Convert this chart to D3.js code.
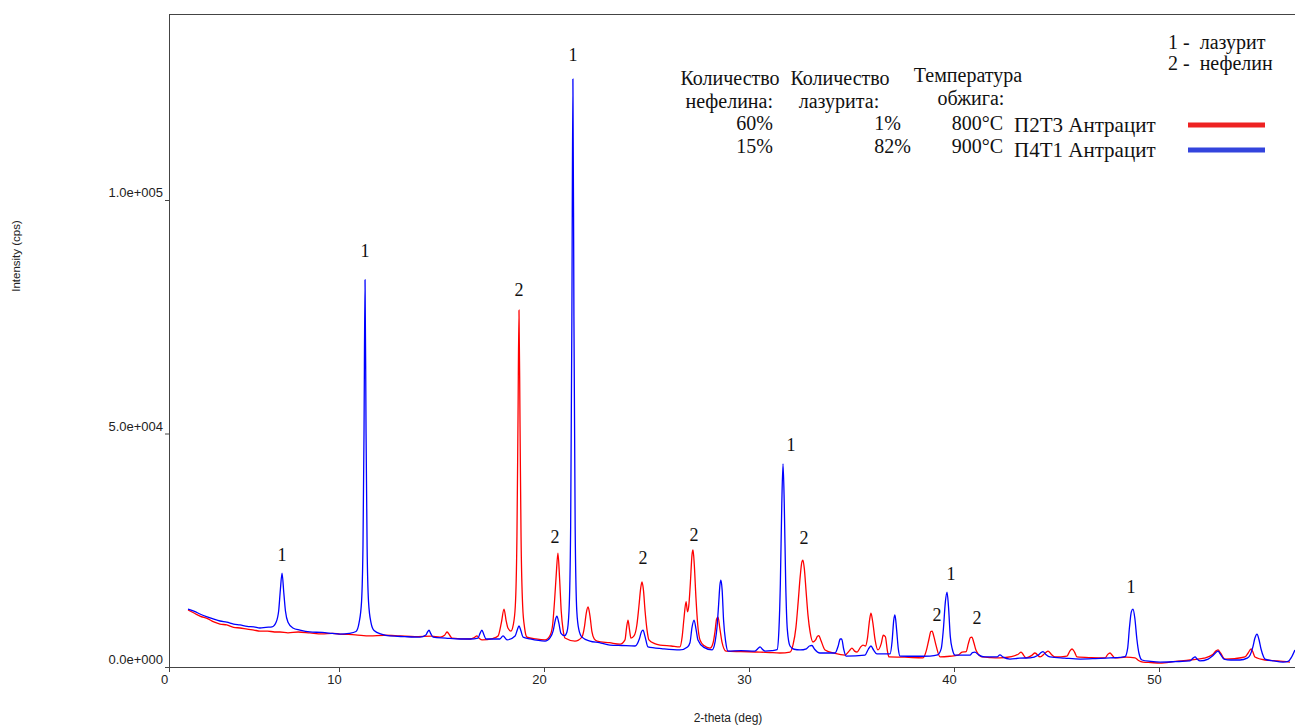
<!DOCTYPE html>
<html>
<head>
<meta charset="utf-8">
<script src="https://cdn.jsdelivr.net/npm/d3@7"></script>
<style>
  body { margin: 0; background: #fff; }
  .axis path, .axis line { stroke: #444; }
  .axis text { font-family: "Liberation Sans", Arial, sans-serif; font-size: 13px; fill: #222; }
  .serif { font-family: "Liberation Serif", "Times New Roman", serif; fill: #111; white-space: pre; }
</style>
</head>
<body>
<div class="xrd"></div>
<script>
// P2T3 Антрацит (red): [2-theta, intensity]
var redSeries = [
  [1.12,12200],[1.5,11500],[1.82,10900],[2.3,10300],[2.6,9700],[3.0,9200],[3.4,9000],[3.8,8500],
  [4.18,8350],[4.6,8100],[5.0,7900],[5.35,7700],[5.8,7700],[6.2,7500],[6.53,7500],[7.0,7300],
  [7.6,7500],[8.29,7300],[9.0,7100],[9.6,7200],[10.05,7050],[10.8,6900],[11.51,6650],[12.2,6800],
  [12.98,6650],[13.7,6500],[14.5,6600],[14.93,6400],[15.15,6800],[15.27,7500],[15.4,6800],
  [15.51,6200],[16.39,6000],[16.6,6300],[16.73,6650],[16.85,6100],[16.98,5800],[17.5,6100],
  [17.76,6650],[17.92,9500],[18.05,12400],[18.15,10000],[18.24,8350],[18.39,7700],[18.5,9000],
  [18.6,13000],[18.68,28000],[18.73,52000],[18.78,76400],[18.83,52000],[18.88,28000],[18.96,13000],
  [19.05,8500],[19.17,6400],[19.6,6000],[20.05,5800],[20.3,6800],[20.42,9000],[20.52,14500],
  [20.6,20000],[20.68,24400],[20.76,19000],[20.84,12000],[20.93,8000],[21.02,6200],[21.51,5550],
  [21.85,6400],[21.98,8800],[22.06,11500],[22.15,12850],[22.24,11000],[22.34,7500],[22.45,6000],
  [22.59,5550],[23.2,5200],[23.71,4900],[23.95,5800],[24.03,8500],[24.1,10050],[24.17,8000],
  [24.24,6200],[24.39,6650],[24.53,9000],[24.63,13000],[24.72,17000],[24.78,18200],[24.85,16500],
  [24.93,12000],[25.03,7800],[25.12,5800],[25.4,5000],[25.66,4700],[26.2,4500],[26.63,4300],
  [26.74,6500],[26.83,10500],[26.93,14000],[27.0,11800],[27.06,13000],[27.14,18000],[27.22,24000],
  [27.27,25050],[27.33,22000],[27.41,15000],[27.5,9000],[27.61,5800],[27.8,4600],[28.1,4050],
  [28.25,5200],[28.34,7500],[28.42,10300],[28.49,10700],[28.57,8500],[28.68,5400],[28.88,3400],
  [29.6,3300],[30.54,3200],[31.0,3100],[31.51,3000],[32.0,3200],[32.15,4800],[32.29,8500],
  [32.4,14000],[32.5,19500],[32.58,22500],[32.63,22900],[32.7,21000],[32.78,16500],[32.88,11000],
  [32.98,7500],[33.12,5350],[33.25,5800],[33.34,6600],[33.41,6700],[33.5,5800],[33.71,3650],
  [34.2,2900],[34.68,2550],[34.9,3500],[35.02,4050],[35.15,3400],[35.27,3200],[35.45,4300],
  [35.56,4700],[35.68,4500],[35.78,6200],[35.88,10000],[35.95,11550],[36.04,9500],[36.15,5800],
  [36.29,3650],[36.45,5000],[36.55,6800],[36.65,6500],[36.75,3500],[36.83,2150],[37.6,2100],
  [38.49,1950],[38.65,3500],[38.78,6000],[38.87,7600],[38.93,7700],[39.02,6500],[39.12,4700],
  [39.32,2150],[39.8,2300],[40.2,2550],[40.39,3200],[40.59,3300],[40.7,5000],[40.8,6300],
  [40.87,6400],[40.97,5200],[41.07,3650],[41.37,2150],[41.8,2000],[42.24,1950],[42.8,2200],
  [43.15,2800],[43.27,3200],[43.4,2500],[43.51,1950],[43.8,2500],[43.95,3000],[44.2,2150],
  [44.45,3000],[44.59,3400],[44.75,2700],[44.93,2150],[45.51,2350],[45.65,3400],[45.76,3850],
  [45.88,3200],[46.0,2150],[46.7,2000],[47.37,1950],[47.5,2700],[47.61,3000],[47.72,2500],
  [47.85,1950],[48.4,2100],[48.83,1950],[49.0,1400],[49.22,1050],[49.6,950],[50.05,850],
  [50.8,1200],[51.51,1500],[52.2,1900],[52.6,2600],[52.8,3500],[52.88,3650],[53.0,3000],
  [53.22,1700],[53.7,1800],[54.19,2150],[54.35,3000],[54.49,3850],[54.58,3200],[54.68,2150],
  [55.17,1500],[55.8,1300],[56.39,1050]
];

// P4T1 Антрацит (blue)
var blueSeries = [
  [1.12,12400],[1.5,11900],[1.82,11350],[2.2,10800],[2.6,10300],[3.0,9850],[3.4,9600],[3.8,9200],
  [4.18,9000],[4.6,8700],[5.0,8600],[5.35,8350],[5.7,8500],[6.06,8600],[6.3,9600],[6.45,12000],
  [6.55,16500],[6.65,20100],[6.75,16000],[6.85,12000],[7.0,9600],[7.29,8350],[7.7,7900],
  [8.29,7500],[9.0,7400],[9.6,7200],[10.05,7050],[10.5,7200],[10.83,7600],[10.98,9500],
  [11.1,14000],[11.17,26000],[11.22,50000],[11.27,82900],[11.32,50000],[11.37,26000],[11.44,14000],
  [11.56,9500],[11.71,7800],[12.1,7000],[12.49,6650],[13.2,6500],[13.95,6400],[14.24,6850],
  [14.32,7500],[14.39,7900],[14.47,7200],[14.59,6400],[15.2,6200],[15.9,6000],[16.4,6000],
  [16.78,6200],[16.88,7200],[16.97,7900],[17.06,7000],[17.17,6000],[17.85,6000],[18.0,6650],
  [18.2,5800],[18.59,6650],[18.7,8000],[18.78,8800],[18.87,7800],[18.98,6400],[19.32,6000],
  [20.05,5550],[20.3,6300],[20.45,7800],[20.55,10000],[20.63,10900],[20.72,9500],[20.83,7200],
  [21.0,6700],[21.12,7500],[21.22,12000],[21.3,30000],[21.36,75000],[21.41,125900],[21.46,75000],
  [21.52,30000],[21.6,12000],[21.7,8000],[21.85,6400],[22.24,5550],[22.7,5200],[23.22,4700],
  [23.8,4600],[24.44,4500],[24.65,6000],[24.75,7500],[24.83,7900],[24.93,6500],[25.07,4300],
  [25.8,3900],[26.63,3650],[27.0,4300],[27.12,5200],[27.22,8500],[27.32,10050],[27.42,8000],
  [27.51,5800],[27.8,4200],[28.2,3650],[28.35,5500],[28.44,8500],[28.52,13500],[28.58,17500],
  [28.63,18600],[28.69,16500],[28.76,10000],[28.86,5500],[28.98,3400],[29.6,3500],[30.29,3400],
  [30.45,4000],[30.54,4300],[30.65,3800],[30.78,3400],[31.1,3500],[31.37,3700],[31.46,8000],
  [31.53,18000],[31.6,35000],[31.66,43500],[31.72,35000],[31.79,18000],[31.87,8000],[32.0,4500],
  [32.2,3800],[32.49,3650],[32.8,3900],[32.95,4500],[33.07,4600],[33.2,3800],[33.46,3000],
  [34.2,3000],[34.35,4500],[34.45,6000],[34.52,6000],[34.62,3800],[34.73,2350],[35.66,2550],
  [35.82,3800],[35.95,4500],[36.08,3600],[36.24,2800],[36.88,2800],[36.98,5500],[37.06,10000],
  [37.12,11150],[37.2,8000],[37.28,4000],[37.37,2350],[38.1,2300],[38.83,2350],[39.2,2600],
  [39.38,4000],[39.48,8000],[39.58,14000],[39.66,16050],[39.73,13000],[39.82,6500],[39.92,3800],
  [40.05,2550],[40.78,2550],[40.9,3100],[41.02,3200],[41.2,2600],[41.51,2150],[42.1,2150],
  [42.24,2600],[42.4,2100],[42.73,1700],[43.2,1900],[43.71,1950],[44.1,2500],[44.25,3100],
  [44.34,3300],[44.48,2700],[44.68,2150],[45.4,1900],[46.15,1700],[46.9,1800],[47.61,1950],
  [48.1,2050],[48.34,2200],[48.47,4000],[48.56,8500],[48.65,11800],[48.73,12400],[48.82,10500],
  [48.92,6000],[49.02,3000],[49.17,1500],[49.6,1200],[50.05,1050],[50.8,1150],[51.51,1300],
  [51.66,1900],[51.76,2150],[51.86,1700],[52.0,1300],[52.4,1700],[52.59,2300],[52.75,3000],
  [52.88,3400],[53.0,2700],[53.17,1700],[53.5,1500],[53.95,1500],[54.3,1900],[54.44,2500],
  [54.58,4300],[54.68,6200],[54.78,7050],[54.87,6000],[54.98,3800],[55.1,2200],[55.17,1700],
  [55.6,1300],[56.05,1050],[56.3,1200],[56.45,2000],[56.63,3650]
];

// peak annotations: [2-theta, intensity, label]
var peakLabels = [
  [6.65,24000,"1"],[11.27,89100,"1"],[18.78,80700,"2"],[21.41,131200,"1"],[20.54,27800,"2"],
  [24.83,23500,"2"],[27.32,28300,"2"],[32.05,47500,"1"],[32.68,27600,"2"],[39.17,11100,"2"],
  [39.85,19900,"1"],[41.12,10500,"2"],[48.63,17300,"1"]
];

var xTicks = [0, 10, 20, 30, 40, 50];
var yTicks = [0, 50000, 100000];
var yTickLabels = ["0.0e+000", "5.0e+004", "1.0e+005"];

var width = 1295, height = 727;
var plotLeft = 169, plotRight = 1295, plotTop = 14, plotBottom = 667;

var svg = d3.select(".xrd").append("svg")
    .attr("width", width)
    .attr("height", height);

// the source image squeezes the 0-10 interval
var x = d3.scaleLinear().domain([0, 10, 50]).range([169, 339, 1159]);
var y = d3.scaleLinear().domain([0, 100000]).range([667, 200]);

svg.append("defs").append("clipPath").attr("id", "plot")
  .append("rect")
    .attr("x", plotLeft).attr("y", plotTop)
    .attr("width", plotRight - plotLeft).attr("height", plotBottom - plotTop);

// top border
svg.append("line")
    .attr("x1", plotLeft).attr("x2", plotRight)
    .attr("y1", plotTop + 0.5).attr("y2", plotTop + 0.5)
    .attr("stroke", "#444");

var line = d3.line()
    .curve(d3.curveMonotoneX)
    .x((d) => x(d[0]))
    .y((d) => y(d[1]));

var g = svg.append("g").attr("clip-path", "url(#plot)");

g.append("path").datum(redSeries)
    .attr("d", line)
    .attr("fill", "none")
    .attr("stroke", "#ff0000")
    .attr("stroke-width", 1.3);

g.append("path").datum(blueSeries)
    .attr("d", line)
    .attr("fill", "none")
    .attr("stroke", "#0000ff")
    .attr("stroke-width", 1.3);

// axes
var xAxis = svg.append("g")
    .attr("class", "axis")
    .attr("transform", "translate(0," + plotBottom + ")")
    .call(d3.axisBottom(x).tickValues(xTicks).tickSize(5).tickPadding(3).tickSizeOuter(0));
xAxis.select(".domain").attr("d", "M" + plotLeft + ",0.5H" + plotRight);
xAxis.selectAll(".tick text").attr("dx", -5);

var yAxis = svg.append("g")
    .attr("class", "axis")
    .attr("transform", "translate(" + plotLeft + ",0)")
    .call(d3.axisLeft(y).tickValues(yTicks).tickSize(4).tickPadding(2).tickSizeOuter(0)
      .tickFormat((d, i) => yTickLabels[i]));
yAxis.select(".domain").attr("d", "M0.5," + plotTop + "V" + plotBottom);
yAxis.selectAll(".tick text").attr("dy", "-0.25em");

svg.append("text")
    .attr("transform", "translate(20,256) rotate(-90)")
    .attr("text-anchor", "middle")
    .style("font-family", "Liberation Sans, Arial, sans-serif")
    .style("font-size", "11.5px")
    .attr("fill", "#222")
    .text("Intensity (cps)");

svg.append("text")
    .attr("x", 728).attr("y", 722)
    .attr("text-anchor", "middle")
    .style("font-family", "Liberation Sans, Arial, sans-serif")
    .style("font-size", "12px")
    .attr("fill", "#222")
    .text("2-theta (deg)");

// peak numbers
svg.selectAll("text.peak")
  .data(peakLabels)
  .enter().append("text")
    .attr("class", "peak serif")
    .attr("x", (d) => x(d[0]))
    .attr("y", (d) => y(d[1]))
    .attr("dy", "0.35em")
    .attr("text-anchor", "middle")
    .style("font-size", "18px")
    .text((d) => d[2]);

// legend / annotation block
function label(txt, px, py, anchor, size) {
  svg.append("text")
      .attr("class", "serif")
      .attr("x", px).attr("y", py)
      .attr("text-anchor", anchor || "start")
      .style("font-size", (size || 20) + "px")
      .text(txt);
}

label("1 -  лазурит", 1168, 49);
label("2 -  нефелин", 1168, 70);

label("Количество", 730, 85, "middle");
label("нефелина:", 773, 108, "end");
label("60%", 773, 130, "end");
label("15%", 773, 153, "end");

label("Количество", 840, 85, "middle");
label("лазурита:", 839, 108, "middle");
label("1%", 901, 130, "end");
label("82%", 911, 153, "end");

label("Температура", 968, 82, "middle");
label("обжига:", 971, 105, "middle");
label("800°C", 1003, 130, "end");
label("900°C", 1003, 153, "end");

label("П2Т3 Антрацит", 1014, 132, "start", 21);
label("П4Т1 Антрацит", 1014, 157, "start", 21);

var legendLines = [["#ee2222", 125], ["#3344dd", 150]];
svg.selectAll("line.key")
  .data(legendLines)
  .enter().append("line")
    .attr("class", "key")
    .attr("x1", 1188).attr("x2", 1265)
    .attr("y1", (d) => d[1]).attr("y2", (d) => d[1])
    .attr("stroke", (d) => d[0])
    .attr("stroke-width", 5);
</script>
</body>
</html>
